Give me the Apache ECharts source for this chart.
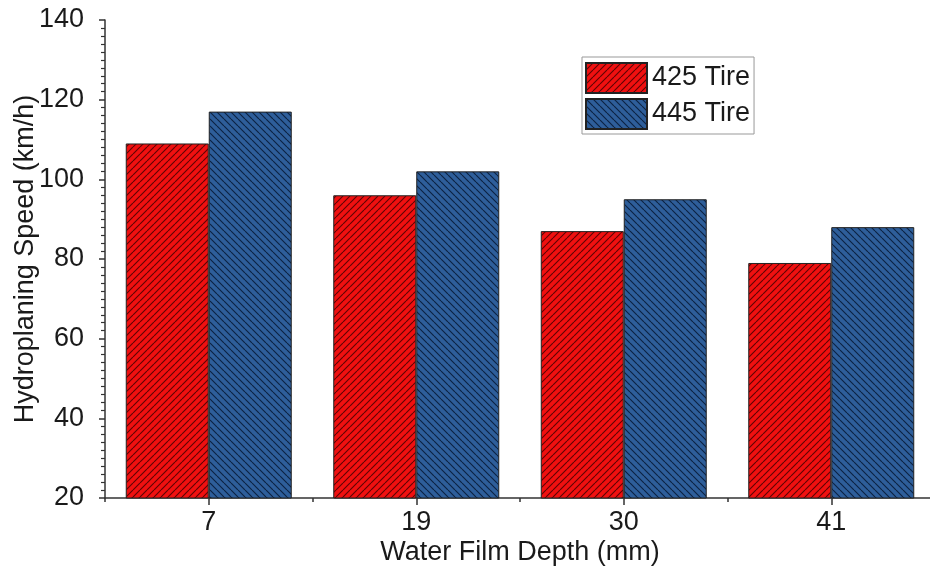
<!DOCTYPE html>
<html>
<head>
<meta charset="utf-8">
<script src="https://cdn.jsdelivr.net/npm/echarts@6/dist/echarts.min.js"></script>
<style>
html,body{margin:0;padding:0;background:#fff;}
#chart{width:930px;height:567px;}
</style>
</head>
<body>
<div id="chart"></div>
<script>
// ---- data ----
const categories = ['7', '19', '30', '41'];
const seriesNames = ['425 Tire', '445 Tire'];
const tire425 = [109, 96, 87, 79];
const tire445 = [117, 102, 95, 88];
const yTicks = { min: 20, max: 140, interval: 20 };

// ---- hatch patterns ----
function hatch(bg, lineColor, dir) {
  const s = 7;
  const c = document.createElement('canvas');
  c.width = s; c.height = s;
  const g = c.getContext('2d');
  g.fillStyle = bg;
  g.fillRect(0, 0, s, s);
  g.strokeStyle = lineColor;
  g.lineWidth = 1.15;
  g.beginPath();
  for (let k = -1; k <= 1; k++) {
    if (dir === '/') {
      g.moveTo(k * s, s); g.lineTo(k * s + s, 0);
    } else {
      g.moveTo(k * s, 0); g.lineTo(k * s + s, s);
    }
  }
  g.stroke();
  return { image: c, repeat: 'repeat' };
}

const redFill = hatch('#f01010', 'rgba(60,0,0,0.8)', '/');
const blueFill = hatch('#2e5e9a', 'rgba(5,20,45,0.8)', '\\');

const FONT = "'Liberation Sans', Arial, sans-serif";
const TXT = '#1a1a1a';

const chart = echarts.init(document.getElementById('chart'), null, { renderer: 'canvas' });
chart.setOption({
  backgroundColor: '#fff',
  animation: false,
  grid: { left: 105, top: 20, width: 830, height: 478, containLabel: false, outerBoundsMode: 'none' },
  legend: {
    orient: 'vertical',
    left: 582, top: 57,
    icon: 'rect',
    itemWidth: 61, itemHeight: 30, itemGap: 4,
    padding: [5, 4, 4, 3],
    borderColor: '#999', borderWidth: 1,
    textStyle: { fontFamily: FONT, fontSize: 27, color: TXT },
    data: seriesNames
  },
  xAxis: [
    {
      type: 'category', data: categories, gridIndex: 0, position: 'bottom',
      name: 'Water Film Depth (mm)', nameLocation: 'middle', nameGap: 41, nameMoveOverlap: false,
      nameTextStyle: { fontFamily: FONT, fontSize: 27, color: TXT },
      axisLine: { show: true, lineStyle: { color: '#333', width: 1.5 } },
      axisTick: { show: true, alignWithLabel: true, length: 7, lineStyle: { color: '#333', width: 1.5 } },
      axisLabel: { fontFamily: FONT, fontSize: 27, color: TXT, margin: 11 },
      splitLine: { show: false }
    },
    {
      type: 'category', data: categories, gridIndex: 0, position: 'bottom',
      axisLine: { show: false },
      axisTick: { show: true, alignWithLabel: false, length: 4, lineStyle: { color: '#333', width: 1.5 } },
      axisLabel: { show: false },
      splitLine: { show: false }
    }
  ],
  yAxis: {
    type: 'value', min: yTicks.min, max: yTicks.max, interval: yTicks.interval,
    name: 'Hydroplaning Speed (km/h)', nameLocation: 'middle', nameGap: 66, nameMoveOverlap: false,
    nameTextStyle: { fontFamily: FONT, fontSize: 27, color: TXT },
    axisLine: { show: true, lineStyle: { color: '#333', width: 1.5 } },
    axisTick: { show: true, length: 6, lineStyle: { color: '#333', width: 1.5 } },
    minorTick: { show: true, splitNumber: 10, length: 4, lineStyle: { color: '#333', width: 1.2 } },
    axisLabel: { fontFamily: FONT, fontSize: 27, color: TXT, margin: 21 },
    splitLine: { show: false }
  },
  series: [
    {
      name: seriesNames[0], type: 'bar', xAxisIndex: 0, data: tire425,
      barGap: '0%', barCategoryGap: '20%',
      itemStyle: { color: redFill, borderColor: '#222', borderWidth: 1 }
    },
    {
      name: seriesNames[1], type: 'bar', xAxisIndex: 0, data: tire445,
      barGap: '0%', barCategoryGap: '20%',
      itemStyle: { color: blueFill, borderColor: '#222', borderWidth: 1 }
    }
  ]
});
</script>
</body>
</html>
